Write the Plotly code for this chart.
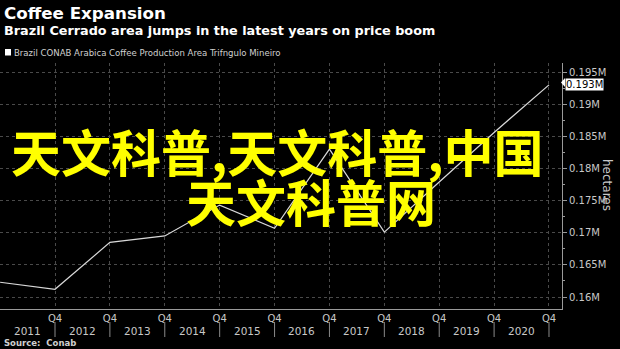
import plotly.graph_objects as go

# Q4 readings of the Triangulo Mineiro arabica area (hectares)
quarters = [2010, 2011, 2012, 2013, 2014, 2015, 2016, 2017, 2018, 2019, 2020]
area_ha = [162300, 161200, 168500, 169500, 174300, 170700, 183000, 170100, 177900, 185600, 193000]

year_labels = ["2011", "2012", "2013", "2014", "2015", "2016", "2017", "2018", "2019", "2020"]
y_ticks = [160000, 165000, 170000, 175000, 180000, 185000, 190000, 195000]

W, H = 620, 349
ML, MR, MT, MB = 0, 58, 63, 40
PW, PH = W - ML - MR, H - MT - MB


def py(pix):
    """Pixel row (from top of figure) to paper y."""
    return (H - MB - pix) / PH


def px(pix):
    return (pix - ML) / PW


AXIS_FONT = dict(family="DejaVu Sans", size=10, color="#c8c8c8")

fig = go.Figure()
fig.add_trace(go.Scatter(
    x=quarters, y=area_ha, mode="lines",
    line=dict(color="#d9d9d9", width=1.2),
    hoverinfo="skip", showlegend=False,
))

fig.update_layout(
    width=W, height=H,
    margin=dict(l=ML, r=MR, t=MT, b=MB),
    paper_bgcolor="#000000", plot_bgcolor="#000000",
    showlegend=False,
    xaxis=dict(
        range=[2009.998, 2020.237],
        tickvals=quarters[1:], ticktext=["Q4"] * (len(quarters) - 1),
        ticks="", showgrid=True, gridcolor="#4a4a4a", griddash="dot", gridwidth=1,
        showline=True, linecolor="#9a9a9a", linewidth=1,
        zeroline=False, tickfont=AXIS_FONT,
    ),
    yaxis=dict(
        side="right",
        range=[158140, 196400],
        tickvals=y_ticks, ticktext=[f"{v / 1e6:g}M" for v in y_ticks],
        ticks="outside", ticklen=4, tickcolor="#9a9a9a",
        minor=dict(ticks="outside", ticklen=2, tickcolor="#9a9a9a", dtick=2500, showgrid=False),
        showgrid=True, gridcolor="#4a4a4a", griddash="dot", gridwidth=1,
        showline=True, linecolor="#9a9a9a", linewidth=1,
        zeroline=False, tickfont=AXIS_FONT,
    ),
)

# Year labels between the Q4 gridlines, with separators below the axis
for i, lab in enumerate(year_labels):
    fig.add_annotation(
        x=quarters[i] + 0.5, y=py(331), xref="x", yref="paper",
        text=lab, showarrow=False, font=dict(family="DejaVu Sans", size=10.5, color="#c8c8c8"),
        xanchor="center", yanchor="middle",
    )
for q in quarters[1:]:
    fig.add_shape(type="line", xref="x", yref="paper", x0=q, x1=q, y0=py(322), y1=py(337),
                  line=dict(color="#8a8a8a", width=1))

# Last-value tag on the right axis
fig.add_annotation(
    x=px(565), y=area_ha[-1], xref="paper", yref="y",
    text=f"{area_ha[-1] / 1e6:g}M", showarrow=False,
    font=dict(family="DejaVu Sans", size=10, color="#000000"),
    bgcolor="#ffffff", borderpad=0, xanchor="left", yanchor="middle",
)
fig.add_shape(type="path", xref="paper", yref="paper",
              path=f"M {px(561)} {py(82.5)} L {px(565)} {py(78)} L {px(565)} {py(87)} Z",
              fillcolor="#ffffff", line=dict(width=0))

# Axis title
fig.add_annotation(
    x=px(607), y=py(185), xref="paper", yref="paper",
    text="hectares", textangle=90, showarrow=False,
    font=dict(family="DejaVu Sans", size=12, color="#c8c8c8"),
    xanchor="center", yanchor="middle",
)

# Header
fig.add_annotation(x=px(2), y=py(13), xref="paper", yref="paper", text="<b>Coffee Expansion</b>",
                   showarrow=False, xanchor="left", yanchor="middle",
                   font=dict(family="DejaVu Sans", size=16.7, color="#ffffff"))
fig.add_annotation(x=px(2), y=py(31), xref="paper", yref="paper",
                   text="<b>Brazil Cerrado area jumps in the latest years on price boom</b>",
                   showarrow=False, xanchor="left", yanchor="middle",
                   font=dict(family="DejaVu Sans", size=12.8, color="#ffffff"))

# Series key
fig.add_shape(type="rect", xref="paper", yref="paper", x0=px(5), x1=px(11), y0=py(55.5), y1=py(49),
              fillcolor="#ffffff", line=dict(width=0))
fig.add_annotation(x=px(12), y=py(52.5), xref="paper", yref="paper",
                   text="Brazil CONAB Arabica Coffee Production Area Trifngulo Mineiro",
                   showarrow=False, xanchor="left", yanchor="middle",
                   font=dict(family="DejaVu Sans Condensed, Liberation Sans Narrow, DejaVu Sans", size=9.5, color="#d0d0d0"))

# Source line
fig.add_annotation(x=px(2), y=py(343), xref="paper", yref="paper", text="<b>Source:  Conab</b>",
                   showarrow=False, xanchor="left", yanchor="middle",
                   font=dict(family="DejaVu Sans", size=8.5, color="#d0d0d0"))

# Overlaid yellow banner text
CJK = dict(family="Noto Sans CJK SC", size=50, color="#ffff00", weight="bold")
fig.add_annotation(x=px(277), y=py(150), xref="paper", yref="paper", text="天文科普,天文科普,中国",
                   showarrow=False, xanchor="center", yanchor="middle", font=CJK)
fig.add_annotation(x=px(311), y=py(200), xref="paper", yref="paper", text="天文科普网",
                   showarrow=False, xanchor="center", yanchor="middle", font=CJK)

fig.write_html("out.html")
